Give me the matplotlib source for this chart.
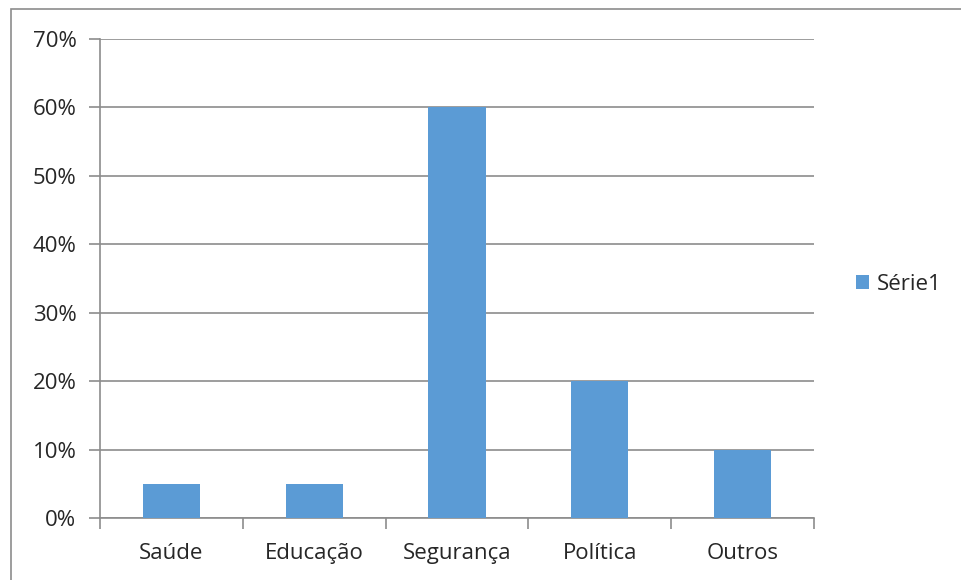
import numpy as np
import matplotlib.pyplot as plt
from matplotlib.patches import Rectangle

categories = ['Saúde', 'Educação', 'Segurança', 'Política', 'Outros']
values = [0.05, 0.05, 0.60, 0.20, 0.10]
yticks = [0, 0.1, 0.2, 0.3, 0.4, 0.5, 0.6, 0.7]

plt.rcParams['font.family'] = ['Open Sans', 'DejaVu Sans']
grid_col = '#8c8c8c'
text_col = '#262626'
fs = 16

fig = plt.figure(figsize=(9.62, 5.80), dpi=100)
ax = fig.add_axes([100 / 962, 62 / 580, 714 / 962, 479 / 580])

x = np.arange(len(categories))
ax.bar(x, values, width=0.4, color='#5B9BD5', label='Série1', zorder=3)

ax.set_xlim(-0.5, len(categories) - 0.5)
ax.set_ylim(0, 0.7)
ax.set_yticks(yticks)
ax.set_yticklabels([f'{int(round(v * 100))}%' for v in yticks])
ax.yaxis.grid(True, color=grid_col, linewidth=1.2, zorder=0)

# category labels centred, tick marks on boundaries
ax.set_xticks(x)
ax.set_xticklabels(categories)
ax.set_xticks(np.arange(-0.5, len(categories)), minor=True)
ax.tick_params(axis='x', which='major', length=0, pad=18, labelsize=fs, labelcolor=text_col)
ax.tick_params(axis='x', which='minor', length=8, color=grid_col, width=1.2)
ax.tick_params(axis='y', length=8, color=grid_col, width=1.2, pad=9, labelsize=fs, labelcolor=text_col)

for s in ['top', 'right']:
    ax.spines[s].set_visible(False)
for s in ['left', 'bottom']:
    ax.spines[s].set_color(grid_col)
    ax.spines[s].set_linewidth(1.2)

ax.legend(loc='center left', bbox_to_anchor=(836 / 962, 296 / 580), bbox_transform=fig.transFigure,
          frameon=False, fontsize=fs, handlelength=0.6, handleheight=0.6, handletextpad=0.35,
          labelcolor=text_col)

# outer chart border (only top and left visible)
fig.patches.append(Rectangle((10.5 / 962, -0.1), 1.2, (580 - 9.5) / 580 + 0.1,
                             transform=fig.transFigure, fill=False, edgecolor='#8c8c8c',
                             linewidth=1.2, clip_on=False))

fig.savefig('out.png', dpi=100)
